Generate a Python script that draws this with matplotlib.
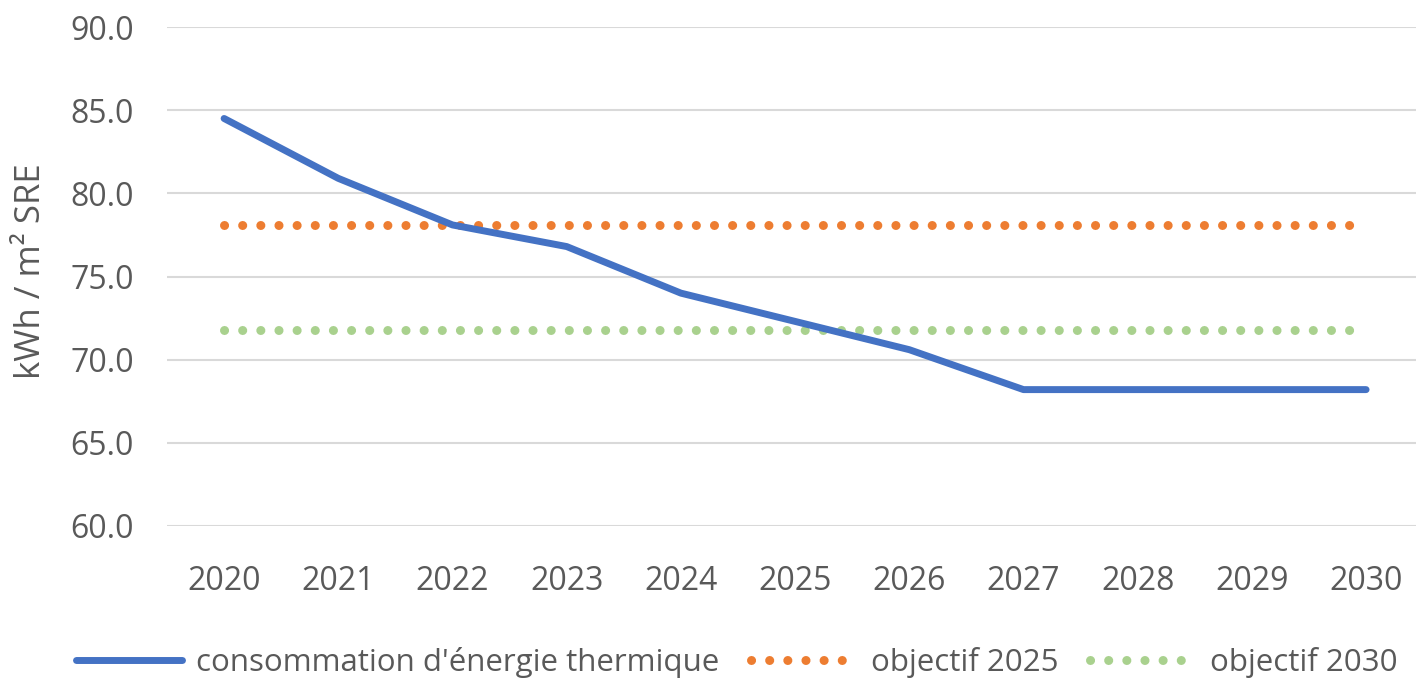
import matplotlib
matplotlib.use("Agg")
from matplotlib import pyplot as plt

# values
years = [2020, 2021, 2022, 2023, 2024, 2025, 2026, 2027, 2028, 2029, 2030]
consommation = [84.5, 80.9, 78.1, 76.8, 74.0, 72.3, 70.6, 68.2, 68.2, 68.2, 68.2]
objectif_2025 = [78.1] * len(years)
objectif_2030 = [71.8] * len(years)
y_ticks = [60, 65, 70, 75, 80, 85, 90]

TEXT = "#595959"
GRID = "#d9d9d9"
BLUE = "#4472c4"
ORANGE = "#ed7d31"
GREEN = "#a9d18e"

plt.rcParams['font.family'] = ['Open Sans', 'DejaVu Sans']

fig = plt.figure(figsize=(14.16, 6.79), dpi=100)
ax = fig.add_axes([167/1416, 1 - 526/679, 1 - 167/1416, (526 - 27)/679])

dots = (0, (0.01, 2))  # round caps turn tiny dashes into dots
ax.plot(years, consommation, color=BLUE, lw=5, solid_capstyle='round',
        solid_joinstyle='round', label="consommation d'énergie thermique", zorder=3)
ax.plot(years, objectif_2025, color=ORANGE, lw=6.5, linestyle=dots,
        dash_capstyle='round', label="objectif 2025", zorder=2)
ax.plot(years, objectif_2030, color=GREEN, lw=6.5, linestyle=dots,
        dash_capstyle='round', label="objectif 2030", zorder=2)

ax.set_ylim(60, 90)
ax.set_xlim(2019.5, 2030 + (1416 - 1366) / 114.4)
ax.set_yticks(y_ticks)
ax.set_yticklabels([f"{v:.1f}" for v in y_ticks])
ax.set_xticks(years)
ax.set_xticklabels([str(y) for y in years])
ax.grid(axis='y', color=GRID, lw=1.5)
ax.set_axisbelow(True)
for s in ax.spines.values():
    s.set_visible(False)
ax.tick_params(length=0, labelsize=23, colors=TEXT)
ax.tick_params(axis='x', pad=28)
ax.tick_params(axis='y', pad=24)
ax.set_ylabel("kWh / m² SRE", fontsize=25, color=TEXT)
ax.yaxis.set_label_coords(-0.095, 0.51)

fig.legend(loc='center', bbox_to_anchor=(737/1416, 1 - 662/679), ncol=3, frameon=False,
           fontsize=22.5, labelcolor=TEXT, handlelength=3.4, handletextpad=0.45,
           columnspacing=1.0, borderaxespad=0)

fig.savefig("out.png", dpi=100)
